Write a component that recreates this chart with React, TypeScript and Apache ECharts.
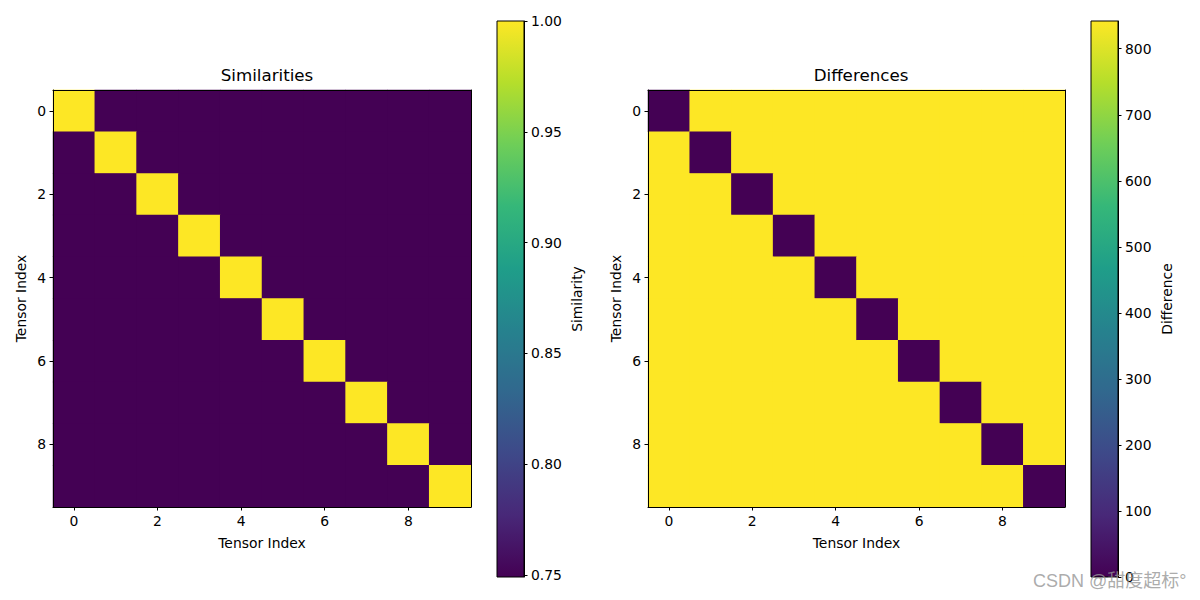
import React, { useEffect, useRef } from "react";
import * as echarts from "echarts";

const indices = ["0", "1", "2", "3", "4", "5", "6", "7", "8", "9"];

const S = 0.7491;
const similarity: number[][] = [
  [1.0, S, S, S, S, S, S, S, S, S],
  [S, 1.0, S, S, S, S, S, S, S, S],
  [S, S, 1.0, S, S, S, S, S, S, S],
  [S, S, S, 1.0, S, S, S, S, S, S],
  [S, S, S, S, 1.0, S, S, S, S, S],
  [S, S, S, S, S, 1.0, S, S, S, S],
  [S, S, S, S, S, S, 1.0, S, S, S],
  [S, S, S, S, S, S, S, 1.0, S, S],
  [S, S, S, S, S, S, S, S, 1.0, S],
  [S, S, S, S, S, S, S, S, S, 1.0],
];

const D = 842;
const difference: number[][] = [
  [0, D, D, D, D, D, D, D, D, D],
  [D, 0, D, D, D, D, D, D, D, D],
  [D, D, 0, D, D, D, D, D, D, D],
  [D, D, D, 0, D, D, D, D, D, D],
  [D, D, D, D, 0, D, D, D, D, D],
  [D, D, D, D, D, 0, D, D, D, D],
  [D, D, D, D, D, D, 0, D, D, D],
  [D, D, D, D, D, D, D, 0, D, D],
  [D, D, D, D, D, D, D, D, 0, D],
  [D, D, D, D, D, D, D, D, D, 0],
];

const simTicks = [0.75, 0.8, 0.85, 0.9, 0.95, 1.0];
const diffTicks = [0, 100, 200, 300, 400, 500, 600, 700, 800];

const viridis = [
  "#440154", "#482878", "#3e4989", "#31688e", "#26828e",
  "#1f9e89", "#35b779", "#6ece58", "#b5de2b", "#fde725",
];

const FONT = "DejaVu Sans";
const FS = 13.9;

function toCells(m: number[][]) {
  const out: number[][] = [];
  m.forEach((row, r) => row.forEach((v, c) => out.push([c, r, v])));
  return out;
}

function flatMin(m: number[][]) {
  return Math.min(...m.map((r) => Math.min(...r)));
}
function flatMax(m: number[][]) {
  return Math.max(...m.map((r) => Math.max(...r)));
}

const gradientStops = viridis.map((c, i) => ({ offset: i / (viridis.length - 1), color: c }));

function colorbarItem(params: any, api: any) {
  const lo = api.coord([0, api.value(1)]);
  const hi = api.coord([0, api.value(2)]);
  const w = api.size([1, 0])[0];
  return {
    type: "rect",
    shape: { x: lo[0] - w / 2, y: hi[1], width: w, height: lo[1] - hi[1] },
    style: {
      fill: new echarts.graphic.LinearGradient(0, 1, 0, 0, gradientStops),
      stroke: "#000",
      lineWidth: 1,
    },
  };
}

export default function App() {
  const ref = useRef<HTMLDivElement>(null);
  useEffect(() => {
    document.body.style.margin = "0";
    const chart = echarts.init(ref.current!, undefined, { renderer: "svg" });
    const simMin = flatMin(similarity);
    const simMax = flatMax(similarity);
    const diffMin = flatMin(difference);
    const diffMax = flatMax(difference);

    const heatX = (gi: number) => ({
      type: "category",
      gridIndex: gi,
      data: indices,
      name: "Tensor Index",
      nameLocation: "middle",
      nameGap: 29,
      nameTextStyle: { fontFamily: FONT, fontSize: FS, color: "#000" },
      axisLine: { show: true, lineStyle: { color: "#000", width: 1 } },
      axisTick: { show: true, alignWithLabel: true, interval: 1, length: 3.5, lineStyle: { color: "#000" } },
      axisLabel: { interval: 1, margin: 7, fontFamily: FONT, fontSize: FS, color: "#000" },
      splitLine: { show: false },
      z: 10,
    });
    const frameX = (gi: number) => ({
      type: "category",
      gridIndex: gi,
      data: indices,
      position: "top",
      axisLine: { show: true, onZero: false, lineStyle: { color: "#000", width: 1 } },
      axisTick: { show: false },
      axisLabel: { show: false },
      splitLine: { show: false },
      z: 10,
    });
    const heatY = (gi: number) => ({
      type: "category",
      gridIndex: gi,
      data: indices,
      inverse: true,
      name: "Tensor Index",
      nameLocation: "middle",
      nameGap: 25,
      nameTextStyle: { fontFamily: FONT, fontSize: FS, color: "#000" },
      axisLine: { show: true, lineStyle: { color: "#000", width: 1 } },
      axisTick: { show: true, alignWithLabel: true, interval: 1, length: 3.5, lineStyle: { color: "#000" } },
      axisLabel: { interval: 1, margin: 7, fontFamily: FONT, fontSize: FS, color: "#000" },
      splitLine: { show: false },
      z: 10,
    });
    const frameY = (gi: number) => ({
      type: "category",
      gridIndex: gi,
      data: indices,
      inverse: true,
      position: "right",
      axisLine: { show: true, onZero: false, lineStyle: { color: "#000", width: 1 } },
      axisTick: { show: false },
      axisLabel: { show: false },
      splitLine: { show: false },
      z: 10,
    });
    const cbX = (gi: number) => ({ type: "category", gridIndex: gi, data: [""], show: false });
    const cbY = (gi: number, min: number, max: number, ticks: number[], name: string, gap: number, dec: number) => ({
      type: "value",
      gridIndex: gi,
      position: "right",
      min,
      max,
      name,
      nameLocation: "middle",
      nameRotate: 90,
      nameGap: gap,
      nameTextStyle: { fontFamily: FONT, fontSize: FS, color: "#000" },
      axisLine: { show: true, lineStyle: { color: "#000", width: 1 } },
      axisTick: { show: true, length: 3.5, customValues: ticks, lineStyle: { color: "#000" } },
      axisLabel: {
        margin: 7,
        customValues: ticks,
        fontFamily: FONT,
        fontSize: FS,
        color: "#000",
        formatter: (v: number) => v.toFixed(dec),
      },
      splitLine: { show: false },
      z: 10,
    });

    chart.setOption({
      animation: false,
      backgroundColor: "#fff",
      title: [
        { text: "Similarities", left: 262, top: 61, textAlign: "center", textStyle: { fontFamily: FONT, fontSize: 16.7, fontWeight: "normal", color: "#000" } },
        { text: "Differences", left: 856, top: 61, textAlign: "center", textStyle: { fontFamily: FONT, fontSize: 16.7, fontWeight: "normal", color: "#000" } },
      ],
      grid: [
        { left: 53, top: 90, width: 418, height: 417, show: true, borderWidth: 0, backgroundColor: viridis[0] },
        { left: 497, top: 21, width: 27, height: 556 },
        { left: 648, top: 90, width: 417, height: 417, show: true, borderWidth: 0, backgroundColor: viridis[viridis.length - 1] },
        { left: 1091, top: 21, width: 27, height: 556 },
      ],
      xAxis: [heatX(0), cbX(1), heatX(2), cbX(3), frameX(0), frameX(2)],
      yAxis: [
        heatY(0),
        cbY(1, simMin, simMax, simTicks, "Similarity", 46, 2),
        heatY(2),
        cbY(3, diffMin, diffMax, diffTicks, "Difference", 42, 0),
        frameY(0),
        frameY(2),
      ],
      visualMap: [
        { type: "continuous", show: false, seriesIndex: 0, min: simMin, max: simMax, inRange: { color: viridis } },
        { type: "continuous", show: false, seriesIndex: 2, min: diffMin, max: diffMax, inRange: { color: viridis } },
      ],
      series: [
        { type: "heatmap", xAxisIndex: 0, yAxisIndex: 0, data: toCells(similarity), itemStyle: { borderWidth: 0 }, emphasis: { disabled: true } },
        { type: "custom", xAxisIndex: 1, yAxisIndex: 1, data: [[0, simMin, simMax]], renderItem: colorbarItem, silent: true },
        { type: "heatmap", xAxisIndex: 2, yAxisIndex: 2, data: toCells(difference), itemStyle: { borderWidth: 0 }, emphasis: { disabled: true } },
        { type: "custom", xAxisIndex: 3, yAxisIndex: 3, data: [[0, diffMin, diffMax]], renderItem: colorbarItem, silent: true },
      ],
      graphic: [
        {
          type: "text",
          left: 1033,
          top: 572,
          z: 100,
          style: {
            text: "CSDN @甜度超标°",
            fontFamily: "'Liberation Sans', 'Noto Sans CJK SC', sans-serif",
            fontSize: 18,
            fill: "rgba(150,150,150,0.8)",
          },
        },
      ],
    });
    return () => chart.dispose();
  }, []);
  return <div ref={ref} style={{ width: 1200, height: 600 }} />;
}
